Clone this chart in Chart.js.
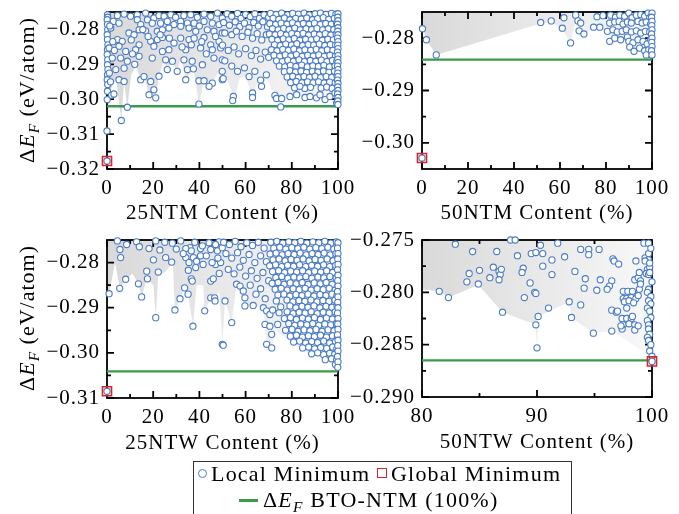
<!DOCTYPE html>
<html>
<head>
<meta charset="utf-8">
<title>Formation energy vs content</title>
<script src="https://cdn.jsdelivr.net/npm/chart.js@4.4.1/dist/chart.umd.min.js"></script>
<style>
  body { margin: 0; background: #fff; font-family: "Liberation Serif", "Times New Roman", serif; }
  #fig { position: relative; width: 679px; height: 514px; overflow: hidden; }
  #fig canvas { position: absolute; left: 0; top: 0; }
  .ytitle { position: absolute; left: 27px; font-size: 22px; letter-spacing: 1px; white-space: nowrap;
            transform: translate(-50%, -50%) rotate(-90deg); }
  sub { font-size: 0.7em; font-style: italic; vertical-align: -0.3em; line-height: 0; }
  #legend { position: absolute; left: 193px; top: 461px; width: 379px; height: 70px;
            border: 1px solid #333; box-sizing: border-box; }
  #legend .lt { position: absolute; font-size: 22px; line-height: 24px; letter-spacing: 1.2px; white-space: nowrap; }
  #legend .mk { position: absolute; box-sizing: border-box; }
  .circ { width: 9px; height: 9px; border: 1.5px solid #4a7bc6; border-radius: 50%; }
  .sq { width: 10px; height: 10px; border: 1.6px solid #d7262b; }
  .ln { width: 19px; height: 2.5px; background: #3a9a4b; }
</style>
</head>
<body>
<div id="fig">
  <canvas id="c1" width="679" height="514"></canvas>
  <canvas id="c2" width="679" height="514"></canvas>
  <canvas id="c3" width="679" height="514"></canvas>
  <canvas id="c4" width="679" height="514"></canvas>
  <div class="ytitle" style="top:90px">&Delta;<i>E</i><sub>F</sub> (eV/atom)</div>
  <div class="ytitle" style="top:318px">&Delta;<i>E</i><sub>F</sub> (eV/atom)</div>
  <div id="legend">
    <span class="mk circ" style="left:4px;top:7px"></span><span class="lt" style="left:17px;top:0">Local Minimum</span>
    <span class="mk sq" style="left:183px;top:6px"></span><span class="lt" style="left:197px;top:0">Global Minimum</span>
    <span class="mk ln" style="left:45px;top:37px"></span><span class="lt" style="left:69px;top:26px">&Delta;<i>E</i><sub>F</sub> BTO-NTM (100%)</span>
  </div>
</div>
<script>
// ---- tick values ----
const pctTicks = [0, 20, 40, 60, 80, 100];
const pctMinor = [10, 30, 50, 70, 90];
const ntw50XTicks = [80, 90, 100];
const ntw50XMinor = [85, 95];
const ntm25YTicks = [-0.32, -0.31, -0.30, -0.29, -0.28];
const ntm25YMinor = [-0.315, -0.305, -0.295, -0.285];
const ntm50YTicks = [-0.30, -0.29, -0.28];
const ntm50YMinor = [-0.295, -0.285];
const ntw25YTicks = [-0.31, -0.30, -0.29, -0.28];
const ntw25YMinor = [-0.305, -0.295, -0.285];
const ntw50YTicks = [-0.290, -0.285, -0.280, -0.275];
const ntw50YMinor = [-0.2875, -0.2825, -0.2775];

// ---- reference energy of BTO-NTM (100%) ----
const ntm25Ref = -0.3020;
const ntm50Ref = -0.2841;
const ntw25Ref = -0.3041;
const ntw50Ref = -0.2865;

// ---- global minima ----
const ntm25Global = [[0, -0.3177]];
const ntm50Global = [[0, -0.3029]];
const ntw25Global = [[0, -0.3085]];
const ntw50Global = [[100, -0.2866]];

// ---- lower edge of the shaded spread ----
const ntm25Spread = [[0,-0.3091],[0.9,-0.2985],[2.5,-0.2958],[4,-0.2945],[6.2,-0.3061],[7.4,-0.2950],[8.8,-0.3023],[10.5,-0.2930],[12.5,-0.2905],[14.6,-0.2944],[16,-0.2935],[18.2,-0.2987],[20.3,-0.2973],[21.1,-0.2996],[22.5,-0.2934],[24.5,-0.2890],[26.1,-0.2915],[28.3,-0.2891],[30.4,-0.2920],[32,-0.2880],[34.1,-0.2944],[37.4,-0.2913],[39.8,-0.3014],[42,-0.2947],[44.2,-0.2963],[45.6,-0.2954],[48,-0.2925],[49.9,-0.2944],[52.1,-0.2944],[54.7,-0.2992],[55,-0.3004],[57.5,-0.2940],[60,-0.2935],[63,-0.2995],[65,-0.2950],[67,-0.2963],[69,-0.2940],[72.7,-0.2989],[75.2,-0.3022],[77,-0.2990],[79.2,-0.2992],[82.1,-0.2987],[85.7,-0.2995],[90.7,-0.2996],[94.4,-0.3001],[98,-0.3005],[100,-0.3020]];
const ntm50Spread = [[0,-0.3029],[0.5,-0.2782],[1.9,-0.2803],[6.2,-0.2832],[51.6,-0.2772],[56.2,-0.2769],[61,-0.2782],[64.6,-0.2809],[66.8,-0.2768],[70.4,-0.2793],[74.6,-0.2781],[77.3,-0.2781],[80.6,-0.2788],[83,-0.2810],[86.5,-0.2805],[89.9,-0.2808],[92.2,-0.2826],[96.8,-0.2826],[99.7,-0.2834],[100,-0.2836]];
const ntw25Spread = [[0,-0.2869],[0.9,-0.2869],[3.5,-0.2800],[5.5,-0.2857],[8.1,-0.2837],[11,-0.2825],[13.6,-0.2847],[15,-0.2876],[17.2,-0.2836],[20.1,-0.2850],[21.1,-0.2922],[22.2,-0.2830],[25.4,-0.2820],[28.5,-0.2800],[29.4,-0.2905],[31.6,-0.2880],[33.6,-0.2856],[35.1,-0.2870],[37.2,-0.2941],[38.8,-0.2850],[41.6,-0.2850],[42.3,-0.2907],[44.9,-0.2878],[46.8,-0.2885],[48.6,-0.2860],[49.9,-0.2981],[51.1,-0.2885],[54,-0.2933],[56.1,-0.2848],[59.7,-0.2896],[63.3,-0.2895],[67.7,-0.2900],[69.1,-0.2981],[71.3,-0.2989],[73,-0.2950],[76,-0.2962],[79,-0.2972],[82,-0.2985],[85,-0.2995],[88.6,-0.3005],[92,-0.3010],[95,-0.3017],[98.9,-0.3028],[100,-0.3035]];
const ntw50Spread = [[80,-0.2797],[81.5,-0.2799],[82.3,-0.2805],[84.9,-0.2793],[87.0,-0.2819],[89.9,-0.2831],[90.0,-0.2853],[90.1,-0.2823],[92.8,-0.2809],[93.0,-0.2824],[94.9,-0.2839],[96.5,-0.2837],[100,-0.2862]];

// ---- local minima ----
const ntm25Local = [
  [0.2,-0.2758],[0.3,-0.2765],[0.1,-0.2772],[0.2,-0.2786],[0.3,-0.2801],[0.1,-0.2815],[0.2,-0.2829],[0.4,-0.2844],[0.2,-0.2858],[0.1,-0.2872],[0.3,-0.2887],[0.2,-0.2901],[0.4,-0.2915],[0.2,-0.2930],[0.1,-0.2944],[0.3,-0.2958],[0.2,-0.2977],[0.1,-0.3001],[0,-0.3091],[0,-0.3177],[2.0,-0.2988],
  [4.5,-0.2760],[7.4,-0.2756],[10.2,-0.2762],[13.1,-0.2758],[16.7,-0.2753],[17.5,-0.2772],[20.3,-0.2767],[22.5,-0.2760],[24.7,-0.2762],[27.6,-0.2758],[29.7,-0.2765],[33.3,-0.2760],[36.2,-0.2758],[39.1,-0.2765],[42.0,-0.2756],[44.9,-0.2762],[47.8,-0.2753],[49.9,-0.2767],
  [2.7,-0.2777],[5.2,-0.2782],[13.1,-0.2772],[14.6,-0.2786],[19.6,-0.2782],[23.2,-0.2782],[26.1,-0.2777],[29.0,-0.2786],[31.9,-0.2777],[34.8,-0.2782],[37.7,-0.2782],[42.0,-0.2777],[45.6,-0.2782],[48.5,-0.2786],
  [1.6,-0.2796],[9.5,-0.2810],[11.7,-0.2815],[13.9,-0.2801],[16.7,-0.2804],[21.8,-0.2805],[24.0,-0.2801],[26.8,-0.2796],[31.9,-0.2791],[35.5,-0.2796],[38.4,-0.2805],[43.4,-0.2801],[46.3,-0.2805],[49.9,-0.2810],
  [4.5,-0.2829],[6.6,-0.2834],[13.9,-0.2844],[18.9,-0.2834],[21.8,-0.2829],[24.0,-0.2823],[29.0,-0.2839],[31.9,-0.2825],[35.5,-0.2829],[37.7,-0.2825],[42.0,-0.2823],[44.9,-0.2844],[48.5,-0.2834],
  [0.9,-0.2853],[5.2,-0.2848],[8.1,-0.2863],[12.4,-0.2858],[20.3,-0.2848],[24.0,-0.2863],[26.8,-0.2858],[34.1,-0.2858],[36.5,-0.2844],[40.5,-0.2853],[45.6,-0.2858],[49.2,-0.2853],
  [2.3,-0.2882],[5.9,-0.2882],[8.8,-0.2891],[13.9,-0.2877],[19.6,-0.2882],[25.4,-0.2887],[28.3,-0.2891],[33.3,-0.2887],[36.9,-0.2891],[46.3,-0.2882],[49.9,-0.2887],
  [3.8,-0.2915],[7.4,-0.2911],[14.6,-0.2944],[26.1,-0.2915],[30.4,-0.2920],[34.8,-0.2915],[37.4,-0.2913],[41.3,-0.2901],[49.9,-0.2920],
  [5.2,-0.2944],[7.4,-0.2949],[18.9,-0.2949],[22.5,-0.2934],[34.1,-0.2944],[39.8,-0.2947],[42.0,-0.2947],[45.6,-0.2954],[49.9,-0.2944],
  [20.3,-0.2973],[18.2,-0.2987],[21.1,-0.2996],[44.2,-0.2963],[39.8,-0.3014],[6.2,-0.3061],[8.8,-0.3023],
  [1.2,-0.2790],[2.5,-0.2835],[3.2,-0.2860],[1.0,-0.2925],[1.5,-0.2950],[3.0,-0.2985],[10.5,-0.2830],[11.0,-0.2870],[15.5,-0.2800],[17.8,-0.2820],[23.0,-0.2815],[27.0,-0.2825],[32.5,-0.2850],[40.0,-0.2790],[41.0,-0.2835],[43.0,-0.2870],[47.0,-0.2820],[12.0,-0.2900],[16.0,-0.2935],
  [52,-0.2755],[54,-0.2762],[56.5,-0.2754],[58,-0.2768],[60,-0.2757],[62,-0.2763],[64,-0.2755],[66,-0.2768],[68,-0.2758],[70,-0.2765],
  [50.5,-0.2780],[53,-0.2788],[55.5,-0.2778],[57.5,-0.2792],[59.5,-0.2782],[61.5,-0.2795],[63.5,-0.2780],[65.5,-0.2790],[67.5,-0.2778],[69.5,-0.2792],
  [51,-0.2810],[54,-0.2815],[56,-0.2805],[58.5,-0.2820],[61,-0.2808],[63,-0.2825],[65,-0.2812],[67,-0.2830],[69,-0.2815],
  [50,-0.2845],[52.5,-0.2860],[55,-0.2850],[57,-0.2870],[60,-0.2855],[62.5,-0.2875],[64.5,-0.2860],[66.5,-0.2885],[68.5,-0.2865],[70,-0.2880],
  [51,-0.2890],[54,-0.2905],[56.5,-0.2920],[59.5,-0.2910],[61.5,-0.2935],[64,-0.2920],[66.5,-0.2945],[69,-0.2930],
  [50.3,-0.2941],[54.7,-0.2992],[54.4,-0.3004],[63.0,-0.2982],[63.0,-0.2995],[66.9,-0.2963],
  [70.8,-0.2754],[73.2,-0.2757],[75.6,-0.2753],[78.1,-0.2758],[80.4,-0.2754],[82.9,-0.2756],[85.3,-0.2753],[87.6,-0.2758],[90.1,-0.2755],[92.4,-0.2753],[94.8,-0.2757],[97.2,-0.2754],[99.1,-0.2756],
  [71.9,-0.2768],[74.4,-0.2771],[76.8,-0.2767],[79.2,-0.2772],[81.7,-0.2768],[84.1,-0.2770],[86.5,-0.2767],[88.9,-0.2772],[91.2,-0.2769],[93.6,-0.2766],[96.0,-0.2771],[98.4,-0.2768],
  [70.5,-0.2783],[73.0,-0.2786],[75.4,-0.2782],[77.9,-0.2785],[80.3,-0.2781],[82.6,-0.2786],[85.0,-0.2783],[87.5,-0.2785],[89.8,-0.2782],[92.3,-0.2786],[94.7,-0.2783],[97.1,-0.2785],[99.4,-0.2782],
  [71.6,-0.2798],[74.1,-0.2801],[76.5,-0.2797],[78.8,-0.2800],[81.3,-0.2796],[83.7,-0.2801],[86.2,-0.2798],[88.6,-0.2800],[90.9,-0.2797],[93.4,-0.2801],[95.8,-0.2798],[98.2,-0.2800],
  [70.3,-0.2813],[72.8,-0.2815],[75.2,-0.2812],[77.6,-0.2816],[80.0,-0.2812],[82.4,-0.2814],[84.9,-0.2811],[87.3,-0.2816],[89.7,-0.2813],[92.0,-0.2815],[94.5,-0.2812],[96.9,-0.2816],[99.2,-0.2813],
  [71.4,-0.2828],[73.9,-0.2831],[76.3,-0.2827],[78.7,-0.2830],[81.1,-0.2826],[83.5,-0.2831],[86.0,-0.2828],[88.4,-0.2830],[90.8,-0.2827],[93.2,-0.2831],[95.6,-0.2828],[98.0,-0.2830],
  [72.5,-0.2844],[75.0,-0.2846],[77.4,-0.2842],[79.9,-0.2845],[82.2,-0.2841],[84.7,-0.2846],[87.1,-0.2843],[89.5,-0.2845],[91.9,-0.2842],[94.3,-0.2846],[96.7,-0.2843],[99.0,-0.2845],
  [71.2,-0.2858],[73.6,-0.2861],[76.1,-0.2857],[78.5,-0.2860],[80.9,-0.2856],[83.3,-0.2861],[85.7,-0.2858],[88.2,-0.2860],[90.6,-0.2857],[93.0,-0.2861],[95.4,-0.2858],[97.8,-0.2860],
  [72.3,-0.2874],[74.8,-0.2877],[77.2,-0.2873],[79.6,-0.2876],[82.0,-0.2872],[84.5,-0.2877],[86.9,-0.2874],[89.3,-0.2876],[91.7,-0.2873],[94.1,-0.2877],[96.5,-0.2874],[98.9,-0.2876],
  [73.4,-0.2890],[75.9,-0.2892],[78.3,-0.2888],[80.7,-0.2891],[83.1,-0.2887],[85.5,-0.2892],[88.0,-0.2889],[90.4,-0.2891],[92.8,-0.2888],[95.2,-0.2892],[97.6,-0.2889],[99.5,-0.2891],
  [74.6,-0.2905],[77.0,-0.2907],[79.4,-0.2903],[81.8,-0.2906],[84.3,-0.2902],[86.7,-0.2907],[89.1,-0.2904],[91.5,-0.2906],[93.9,-0.2903],[96.3,-0.2907],[98.7,-0.2904],
  [76.8,-0.2921],[79.2,-0.2918],[81.6,-0.2922],[84.0,-0.2919],[86.4,-0.2923],[88.9,-0.2920],[91.3,-0.2922],[93.7,-0.2919],[96.1,-0.2923],[98.5,-0.2920],
  [78.0,-0.2936],[80.4,-0.2934],[82.8,-0.2938],[85.3,-0.2935],[87.7,-0.2937],[90.1,-0.2934],[92.5,-0.2938],[94.9,-0.2935],[97.3,-0.2937],[99.6,-0.2934],
  [79.5,-0.2952],[81.9,-0.2949],[84.4,-0.2953],[86.8,-0.2950],[89.2,-0.2953],[91.6,-0.2950],[94.0,-0.2954],[96.4,-0.2951],[98.8,-0.2953],
  [81.2,-0.2967],[85.6,-0.2969],[88.1,-0.2966],[92.7,-0.2968],[95.1,-0.2965],[97.5,-0.2969],
  [72.7,-0.2989],[73.4,-0.2998],[75.6,-0.2998],[75.2,-0.3022],[79.2,-0.2992],[82.1,-0.2987],[83.5,-0.2963],[85.7,-0.2995],[87.9,-0.2992],[90.7,-0.2996],[92.2,-0.2987],[94.4,-0.3001],[96.5,-0.2992],[98.7,-0.2982],[99.4,-0.3011],
  [100,-0.2755],[99.9,-0.2765],[100,-0.2775],[99.8,-0.2785],[100,-0.2795],[99.9,-0.2805],[100,-0.2815],[99.8,-0.2825],[100,-0.2835],[99.9,-0.2845],[100,-0.2855],[99.8,-0.2865],[100,-0.2875],[99.9,-0.2885],[100,-0.2895],[99.8,-0.2905],[100,-0.2915],[99.9,-0.2925],[100,-0.2935],[99.8,-0.2945],[100,-0.2955],[99.9,-0.2965],[100,-0.2975],[99.8,-0.2985],[100,-0.2995],[99.9,-0.3005],[100,-0.3015]
];

const ntm50Local = [
  [0.2,-0.2782],[1.9,-0.2803],[6.2,-0.2832],[0,-0.3029],
  [51.6,-0.2770],[56.2,-0.2767],[61.7,-0.2761],[61.0,-0.2781],[64.6,-0.2809],[66.8,-0.2756],[67.8,-0.2767],[69.0,-0.2771],[68.3,-0.2786],[70.4,-0.2792],[74.6,-0.2779],[77.3,-0.2779],[76.1,-0.2759],[78.7,-0.2757],
  [82.0,-0.2756],[84.1,-0.2760],[86.0,-0.2756],[88.1,-0.2758],[89.9,-0.2752],[91.3,-0.2761],[93.2,-0.2756],[95.1,-0.2755],[96.8,-0.2758],[98.3,-0.2752],[99.0,-0.2761],
  [81.6,-0.2771],[83.8,-0.2769],[85.7,-0.2768],[87.4,-0.2773],[89.3,-0.2769],[91.0,-0.2771],[93.9,-0.2768],[95.7,-0.2771],[97.5,-0.2769],[99.4,-0.2773],
  [80.6,-0.2787],[83.0,-0.2784],[84.9,-0.2788],[87.0,-0.2787],[88.8,-0.2784],[91.0,-0.2788],[93.2,-0.2786],[95.1,-0.2790],[97.1,-0.2787],[99.0,-0.2788],
  [81.6,-0.2806],[83.8,-0.2800],[86.4,-0.2803],[89.3,-0.2798],[89.9,-0.2806],[91.7,-0.2809],[93.9,-0.2803],[96.1,-0.2806],[97.9,-0.2811],[99.4,-0.2803],
  [90.3,-0.2817],[92.2,-0.2825],[94.6,-0.2819],[96.8,-0.2824],[98.6,-0.2822],[99.7,-0.2832],[97.5,-0.2832],
  [100,-0.2752],[99.8,-0.2760],[100,-0.2768],[99.9,-0.2776],[100,-0.2784],[99.8,-0.2792],[100,-0.2800],[99.9,-0.2808],[100,-0.2816],[99.8,-0.2824],[100,-0.2832]
];

const ntw25Local = [
  [0,-0.3085],[0.9,-0.2869],
  [4.5,-0.2752],[12.8,-0.2754],[21.1,-0.2752],[28.3,-0.2757],[31.9,-0.2752],[35.9,-0.2767],[40.5,-0.2769],[44.2,-0.2756],[46.3,-0.2767],[48.5,-0.2754],
  [5.6,-0.2771],[18.2,-0.2769],[22.9,-0.2772],[34.1,-0.2769],[36.5,-0.2774],[41.3,-0.2763],[44.9,-0.2771],[47.8,-0.2774],[49.9,-0.2767],
  [5.9,-0.2789],[20.1,-0.2794],[25.4,-0.2789],[28.0,-0.2799],[34.1,-0.2789],[37.4,-0.2789],[38.8,-0.2797],[40.5,-0.2785],[41.6,-0.2804],[47.0,-0.2804],[49.2,-0.2800],[35.5,-0.2800],
  [17.2,-0.2819],[22.2,-0.2821],[38.4,-0.2811],[35.2,-0.2817],[48.6,-0.2824],
  [8.1,-0.2837],[13.6,-0.2847],[17.5,-0.2836],[36.5,-0.2836],[36.9,-0.2841],[44.9,-0.2841],[46.0,-0.2836],
  [5.5,-0.2857],[15.0,-0.2876],[33.6,-0.2856],[35.1,-0.2870],[31.6,-0.2880],[44.9,-0.2878],[46.6,-0.2878],[46.8,-0.2885],
  [21.1,-0.2922],[29.4,-0.2905],[42.3,-0.2907],[37.2,-0.2941],[49.9,-0.2981],
  [8.5,-0.2760],[14,-0.2765],[25,-0.2755],[30,-0.2770],[38,-0.2755],[43,-0.2785],[47,-0.2760],[33,-0.2780],[45.5,-0.2800],[48,-0.2790],
  [51.1,-0.2885],[50.3,-0.2983],[54.0,-0.2933],[56.1,-0.2848],[57.6,-0.2852],[59.0,-0.2863],[59.7,-0.2878],[59.7,-0.2896],[63.3,-0.2895],[67.7,-0.2900],[69.1,-0.2907],[70.5,-0.2915],[71.7,-0.2905],[68.4,-0.2937],[70.5,-0.2941],[71.3,-0.2959],[69.1,-0.2981],[71.3,-0.2989],
  [50.5,-0.2755],[53,-0.2760],[55.5,-0.2753],[58,-0.2765],[60.5,-0.2756],[63,-0.2762],[65.5,-0.2755],[68,-0.2768],
  [51.5,-0.2780],[54,-0.2790],[56.5,-0.2778],[59,-0.2795],[61.5,-0.2782],[64,-0.2800],[66.5,-0.2785],[69,-0.2798],
  [52.5,-0.2815],[55,-0.2825],[57.5,-0.2810],[60,-0.2830],[62.5,-0.2818],[65,-0.2835],[67.5,-0.2822],[70,-0.2840],
  [62,-0.2850],[64.5,-0.2870],[66.5,-0.2858],[68.5,-0.2880],
  [70.9,-0.2755],[73.5,-0.2753],[76.1,-0.2757],[78.7,-0.2754],[81.3,-0.2756],[83.9,-0.2753],[86.5,-0.2757],[89.1,-0.2754],[91.7,-0.2756],[94.3,-0.2753],[96.9,-0.2757],[99.3,-0.2754],
  [72.2,-0.2768],[74.8,-0.2766],[77.4,-0.2770],[80.0,-0.2767],[82.6,-0.2769],[85.2,-0.2766],[87.8,-0.2770],[90.4,-0.2767],[93.0,-0.2769],[95.6,-0.2766],[98.2,-0.2770],
  [70.6,-0.2781],[73.2,-0.2779],[75.8,-0.2783],[78.4,-0.2780],[81.0,-0.2782],[83.6,-0.2779],[86.2,-0.2783],[88.8,-0.2780],[91.4,-0.2782],[94.0,-0.2779],[96.6,-0.2783],[99.1,-0.2780],
  [71.9,-0.2794],[74.5,-0.2792],[77.1,-0.2796],[79.7,-0.2793],[82.3,-0.2795],[84.9,-0.2792],[87.5,-0.2796],[90.1,-0.2793],[92.7,-0.2795],[95.3,-0.2792],[97.9,-0.2796],
  [70.4,-0.2807],[73.0,-0.2805],[75.6,-0.2809],[78.2,-0.2806],[80.8,-0.2808],[83.4,-0.2805],[86.0,-0.2809],[88.6,-0.2806],[91.2,-0.2808],[93.8,-0.2805],[96.4,-0.2809],[99.0,-0.2806],
  [71.7,-0.2820],[74.3,-0.2818],[76.9,-0.2822],[79.5,-0.2819],[82.1,-0.2821],[84.7,-0.2818],[87.3,-0.2822],[89.9,-0.2819],[92.5,-0.2821],[95.1,-0.2818],[97.7,-0.2822],
  [73.1,-0.2833],[75.7,-0.2831],[78.3,-0.2835],[80.9,-0.2832],[83.5,-0.2834],[86.1,-0.2831],[88.7,-0.2835],[91.3,-0.2832],[93.9,-0.2834],[96.5,-0.2831],[99.2,-0.2835],
  [71.5,-0.2846],[74.1,-0.2844],[76.7,-0.2848],[79.3,-0.2845],[81.9,-0.2847],[84.5,-0.2844],[87.1,-0.2848],[89.7,-0.2845],[92.3,-0.2847],[94.9,-0.2844],[97.5,-0.2848],
  [72.8,-0.2859],[75.4,-0.2857],[78.0,-0.2861],[80.6,-0.2858],[83.2,-0.2860],[85.8,-0.2857],[88.4,-0.2861],[91.0,-0.2858],[93.6,-0.2860],[96.2,-0.2857],[98.8,-0.2861],
  [74.0,-0.2872],[76.6,-0.2870],[79.2,-0.2874],[81.8,-0.2871],[84.4,-0.2873],[87.0,-0.2870],[89.6,-0.2874],[92.2,-0.2871],[94.8,-0.2873],[97.4,-0.2870],[99.5,-0.2874],
  [73.3,-0.2885],[77.9,-0.2883],[80.5,-0.2887],[83.1,-0.2884],[85.7,-0.2886],[88.3,-0.2883],[90.9,-0.2887],[93.5,-0.2884],[96.1,-0.2886],[98.7,-0.2883],
  [75.2,-0.2898],[79.2,-0.2896],[81.8,-0.2900],[84.4,-0.2897],[87.0,-0.2899],[89.6,-0.2896],[92.2,-0.2900],[94.8,-0.2897],[97.4,-0.2899],[99.6,-0.2896],
  [74.5,-0.2911],[78.0,-0.2909],[80.6,-0.2913],[83.2,-0.2910],[85.8,-0.2912],[88.4,-0.2909],[91.0,-0.2913],[93.6,-0.2910],[96.2,-0.2912],[98.8,-0.2909],
  [76.8,-0.2924],[79.4,-0.2922],[82.0,-0.2926],[84.6,-0.2923],[87.2,-0.2925],[89.8,-0.2922],[92.4,-0.2926],[95.0,-0.2923],[97.6,-0.2925],
  [73.9,-0.2937],[78.7,-0.2935],[81.3,-0.2939],[83.9,-0.2936],[86.5,-0.2938],[89.1,-0.2935],[91.7,-0.2939],[94.3,-0.2936],[96.9,-0.2938],[99.3,-0.2935],
  [77.3,-0.2950],[80.1,-0.2948],[82.7,-0.2952],[85.3,-0.2949],[87.9,-0.2951],[90.5,-0.2948],[93.1,-0.2952],[95.7,-0.2949],[98.3,-0.2951],
  [79.4,-0.2963],[82.0,-0.2961],[84.6,-0.2965],[87.2,-0.2962],[89.8,-0.2964],[92.4,-0.2961],[95.0,-0.2965],[97.6,-0.2962],[99.7,-0.2964],
  [80.8,-0.2976],[83.4,-0.2974],[86.0,-0.2978],[88.6,-0.2975],[91.2,-0.2977],[93.8,-0.2974],[96.4,-0.2978],[98.9,-0.2975],
  [84.7,-0.2989],[87.3,-0.2987],[89.9,-0.2991],[92.5,-0.2988],[95.1,-0.2990],[97.7,-0.2987],[99.5,-0.2991],
  [88.6,-0.3002],[91.2,-0.3000],[93.8,-0.3004],[96.4,-0.3001],[98.6,-0.3003],
  [94.5,-0.3015],[97.2,-0.3013],[99.4,-0.3016],[98.9,-0.3026],
  [100,-0.2756],[99.8,-0.2768],[100,-0.2780],[99.9,-0.2792],[100,-0.2804],[99.8,-0.2816],[100,-0.2828],[99.9,-0.2840],[100,-0.2852],[99.8,-0.2864],[100,-0.2876],[99.9,-0.2888],[100,-0.2900],[99.8,-0.2912],[100,-0.2924],[99.9,-0.2936],[100,-0.2948],[99.8,-0.2960],[100,-0.2972],[99.9,-0.2984],[100,-0.2996],[99.8,-0.3008],[100,-0.3020],[99.9,-0.3032]
];

const ntw50Local = [
  [82.9,-0.2754],[84.4,-0.2761],[86.5,-0.2761],[87.7,-0.2750],[88.1,-0.2750],[88.3,-0.2765],[89.5,-0.2763],[89.9,-0.2762],[90.3,-0.2755],[90.5,-0.2763],[91.8,-0.2753],[91.3,-0.2769],[92.4,-0.2766],[93.8,-0.2759],[94.5,-0.2759],[94.5,-0.2764],[95.4,-0.2759],[96.6,-0.2768],[96.7,-0.2770],[97.1,-0.2773],
  [84.1,-0.2782],[85.0,-0.2779],[83.9,-0.2790],[84.9,-0.2792],[86.2,-0.2776],[85.9,-0.2786],[86.7,-0.2780],[86.8,-0.2783],[86.7,-0.2788],[86.9,-0.2778],[88.8,-0.2777],[88.7,-0.2781],[90.5,-0.2775],[91.3,-0.2783],[93.3,-0.2780],[94.2,-0.2787],[95.5,-0.2788],[96.5,-0.2789],[96.3,-0.2794],[96.1,-0.2797],[95.2,-0.2798],[94.1,-0.2796],[89.4,-0.2791],[89.8,-0.2800],[89.9,-0.2801],[88.9,-0.2805],
  [81.5,-0.2799],[82.3,-0.2805],[87.0,-0.2819],[91.0,-0.2815],[92.8,-0.2809],[93.8,-0.2812],[93.0,-0.2824],[90.1,-0.2823],[89.9,-0.2831],[90.0,-0.2853],[94.9,-0.2839],[96.5,-0.2837],[96.5,-0.2817],[96.9,-0.2819],[97.0,-0.2818],
  [97.5,-0.2799],[97.9,-0.2799],[98.3,-0.2799],[97.5,-0.2806],[97.8,-0.2806],[98.2,-0.2805],[98.6,-0.2806],[97.6,-0.2809],[98.0,-0.2808],[98.4,-0.2810],[98.8,-0.2803],[98.9,-0.2797],[97.8,-0.2815],[97.4,-0.2825],[97.8,-0.2825],[98.2,-0.2825],[97.5,-0.2831],[98.0,-0.2830],[98.5,-0.2831],[97.4,-0.2835],[97.3,-0.2832],[98.5,-0.2836],[98.8,-0.2832],[98.3,-0.2823],
  [98.6,-0.2770],[98.5,-0.2788],[98.8,-0.2786],[98.9,-0.2781],[99.0,-0.2789],[99.0,-0.2792],[99.3,-0.2753],[99.7,-0.2753],[99.4,-0.2767],[99.7,-0.2763],[99.7,-0.2769],[99.4,-0.2770],[99.6,-0.2778],[99.5,-0.2782],[99.7,-0.2783],[99.8,-0.2776],[99.8,-0.2781],[99.9,-0.2758],[99.8,-0.2772],[100,-0.2790],
  [99.7,-0.2797],[99.6,-0.2800],[99.9,-0.2804],[99.7,-0.2808],[99.9,-0.2811],[99.6,-0.2815],[99.8,-0.2818],[99.9,-0.2824],[99.6,-0.2827],[99.7,-0.2831],[99.7,-0.2835],[99.8,-0.2840],[99.6,-0.2843],[99.7,-0.2846],[99.9,-0.2850],[99.8,-0.2856],[100,-0.2861],[100,-0.2866]
];

const FONT = '"Liberation Serif", "Times New Roman", serif';
const BLUE = '#4a7bc6';
const RED = '#d7262b';
const GREEN = '#3a9a4b';

const toXY = arr => arr.map(([x, y]) => ({ x, y }));

// horizontal grey gradient for the spread area
const shade = (c) => {
  const a = c.chart.chartArea;
  if (!a) return 'rgba(0,0,0,0)';
  const g = c.chart.ctx.createLinearGradient(a.left, 0, a.right, 0);
  g.addColorStop(0, '#d9d9d9');
  g.addColorStop(1, '#f8f8f8');
  return g;
};

// box + inward tick marks on all four sides
function makeFrame(p) {
  return {
    id: 'frame',
    beforeDraw(chart) { chart.ctx.letterSpacing = '1px'; },
    afterDatasetDraw(chart, args) {
      if (args.index !== 0) return;
      const { ctx, chartArea: a, scales: { x, y } } = chart;
      ctx.save();
      ctx.strokeStyle = '#000';
      ctx.lineWidth = 1.8;
      ctx.beginPath();
      const xMarks = (vals, len) => vals.forEach(v => {
        const px = x.getPixelForValue(v);
        ctx.moveTo(px, a.bottom); ctx.lineTo(px, a.bottom - len);
        ctx.moveTo(px, a.top); ctx.lineTo(px, a.top + len);
      });
      const yMarks = (vals, len) => vals.forEach(v => {
        const py = y.getPixelForValue(v);
        ctx.moveTo(a.left, py); ctx.lineTo(a.left + len, py);
        ctx.moveTo(a.right, py); ctx.lineTo(a.right - len, py);
      });
      xMarks(p.xTicks, 7); xMarks(p.xMinor, 4);
      yMarks(p.yTicks, 7); yMarks(p.yMinor, 4);
      ctx.stroke();
      ctx.strokeRect(a.left, a.top, a.right - a.left, a.bottom - a.top);
      ctx.restore();
    }
  };
}

function makePanel(p) {
  const yW = 80;
  const xH = p.titleY - p.box.b + 12.6;
  const tickFont = { family: FONT, size: 21 };
  new Chart(document.getElementById(p.id), {
    type: 'scatter',
    data: {
      datasets: [
        { type: 'line', data: toXY(p.spread), order: 3, fill: 'end', backgroundColor: shade,
          borderWidth: 0, pointRadius: 0, tension: 0 },
        { type: 'line', data: [{ x: p.x[0], y: p.ref }, { x: p.x[1], y: p.ref }], order: 2,
          borderColor: GREEN, borderWidth: 2.4, pointRadius: 0, fill: false },
        { data: toXY(p.local), order: 1, pointStyle: 'circle', pointRadius: 3.1,
          borderColor: BLUE, backgroundColor: '#fff', borderWidth: 1.1, clip: false },
        { data: toXY(p.glob), order: 0, pointStyle: 'rect', pointRadius: 6.4,
          borderColor: RED, backgroundColor: 'rgba(0,0,0,0)', borderWidth: 1.6, clip: false }
      ]
    },
    options: {
      responsive: false,
      animation: false,
      events: [],
      layout: { padding: { left: p.box.l - yW, top: p.box.t, right: 679 - p.box.r, bottom: 514 - p.box.b - xH } },
      plugins: { legend: { display: false }, tooltip: { enabled: false } },
      scales: {
        x: {
          type: 'linear', bounds: 'data', min: p.x[0], max: p.x[1],
          grid: { display: false, drawTicks: false }, border: { display: false },
          afterBuildTicks: s => { s.ticks = p.xTicks.map(v => ({ value: v })); },
          afterFit: s => { s.height = xH; s.paddingLeft = 0; s.paddingRight = 0; },
          ticks: { autoSkip: false, maxRotation: 0, padding: 7, color: '#000', font: tickFont,
                   callback: v => String(v) },
          title: { display: true, text: p.title, color: '#000', font: tickFont, padding: { top: 0, bottom: 0 } }
        },
        y: {
          type: 'linear', bounds: 'data', min: p.y[0], max: p.y[1],
          grid: { display: false, drawTicks: false }, border: { display: false },
          afterBuildTicks: s => { s.ticks = p.yTicks.map(v => ({ value: v })); },
          afterFit: s => { s.width = yW; s.paddingTop = 0; s.paddingBottom = 0; },
          ticks: { autoSkip: false, padding: 7, color: '#000', font: tickFont,
                   callback: v => v.toFixed(p.dec).replace('-', '\u2212') }
        }
      }
    },
    plugins: [makeFrame(p)]
  });
}

makePanel({ id: 'c1', local: ntm25Local, glob: ntm25Global, spread: ntm25Spread, ref: ntm25Ref,
  x: [0, 100], y: [-0.32, -0.275], xTicks: pctTicks, xMinor: pctMinor, yTicks: ntm25YTicks, yMinor: ntm25YMinor,
  dec: 2, title: '25NTM Content (%)', box: { l: 107, t: 12, r: 338, b: 169 }, titleY: 213 });
makePanel({ id: 'c2', local: ntm50Local, glob: ntm50Global, spread: ntm50Spread, ref: ntm50Ref,
  x: [0, 100], y: [-0.305, -0.275], xTicks: pctTicks, xMinor: pctMinor, yTicks: ntm50YTicks, yMinor: ntm50YMinor,
  dec: 2, title: '50NTM Content (%)', box: { l: 422, t: 12, r: 652, b: 169 }, titleY: 213 });
makePanel({ id: 'c3', local: ntw25Local, glob: ntw25Global, spread: ntw25Spread, ref: ntw25Ref,
  x: [0, 100], y: [-0.31, -0.275], xTicks: pctTicks, xMinor: pctMinor, yTicks: ntw25YTicks, yMinor: ntw25YMinor,
  dec: 2, title: '25NTW Content (%)', box: { l: 107, t: 240, r: 338, b: 398 }, titleY: 443 });
makePanel({ id: 'c4', local: ntw50Local, glob: ntw50Global, spread: ntw50Spread, ref: ntw50Ref,
  x: [80, 100], y: [-0.29, -0.275], xTicks: ntw50XTicks, xMinor: ntw50XMinor, yTicks: ntw50YTicks, yMinor: ntw50YMinor,
  dec: 3, title: '50NTW Content (%)', box: { l: 422, t: 240, r: 652, b: 397 }, titleY: 442 });
</script>
</body>
</html>
